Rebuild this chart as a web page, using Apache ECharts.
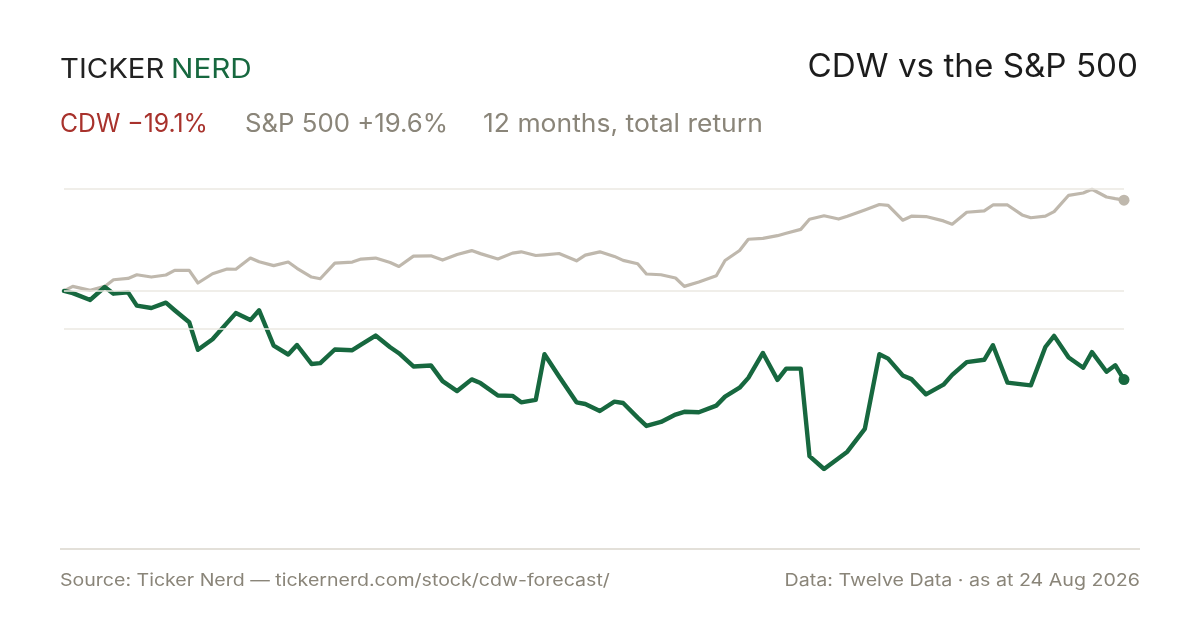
<!DOCTYPE html>
<html><head><meta charset="utf-8">
<script src="https://cdn.jsdelivr.net/npm/echarts@6/dist/echarts.min.js"></script>
<style>html,body{margin:0;padding:0;background:#fff}#c{width:1200px;height:630px}</style>
</head><body><div id="c"></div>
<script>
const dates = ['2025-08-25','2025-08-28','2025-09-03','2025-09-08','2025-09-11','2025-09-16','2025-09-19','2025-09-24','2025-09-29','2025-10-02','2025-10-07','2025-10-10','2025-10-15','2025-10-20','2025-10-23','2025-10-28','2025-10-31','2025-11-05','2025-11-10','2025-11-13','2025-11-18','2025-11-21','2025-11-26','2025-12-02','2025-12-05','2025-12-10','2025-12-15','2025-12-18','2025-12-23','2025-12-29','2026-01-02','2026-01-07','2026-01-12','2026-01-15','2026-01-21','2026-01-26','2026-01-29','2026-02-03','2026-02-06','2026-02-11','2026-02-17','2026-02-20','2026-02-25','2026-03-02','2026-03-05','2026-03-10','2026-03-13','2026-03-18','2026-03-23','2026-03-26','2026-03-31','2026-04-06','2026-04-09','2026-04-14','2026-04-17','2026-04-22','2026-04-27','2026-04-30','2026-05-05','2026-05-08','2026-05-13','2026-05-18','2026-05-21','2026-05-27','2026-06-01','2026-06-04','2026-06-09','2026-06-12','2026-06-17','2026-06-23','2026-06-26','2026-07-01','2026-07-07','2026-07-10','2026-07-15','2026-07-20','2026-07-23','2026-07-28','2026-07-31','2026-08-05','2026-08-10','2026-08-13','2026-08-18','2026-08-21','2026-08-24'];

const spx = [0, 0.99, 0.13, 0.99, 2.43, 2.71, 3.50, 3.01, 3.44, 4.43,
  4.43, 1.72, 3.72, 4.73, 4.69, 7.10, 6.30, 5.48, 6.24, 4.90,
  3.01, 2.64, 6.02, 6.24, 6.88, 7.10, 6.15, 5.29, 7.53, 7.59,
  6.67, 7.87, 8.71, 8.06, 6.90, 8.17, 8.45, 7.65, 7.80, 8.08,
  6.51, 7.74, 8.45, 7.46, 6.60, 5.87, 3.66, 3.50, 2.80, 0.99,
  1.94, 3.29, 6.58, 8.73, 11.16, 11.35, 11.93, 12.47, 13.29, 15.48,
  16.23, 15.52, 16.13, 17.48, 18.66, 18.47, 15.27, 16.13, 16.06, 15.12,
  14.41, 16.99, 17.27, 18.56, 18.56, 16.41, 15.80, 16.15, 17.11, 20.64,
  21.14, 21.95, 20.27, 19.91, 19.60];

const cdw = [0, -0.47, -1.94, 0.86, -0.58, -0.30, -3.16, -3.66, -2.52, -4.15,
  -6.75, -12.69, -10.41, -6.88, -4.77, -6.28, -4.17, -11.80, -13.70, -11.65,
  -15.74, -15.57, -12.62, -12.77, -11.59, -9.61, -12.13, -13.42, -16.28, -16.06,
  -19.44, -21.59, -19.07, -19.87, -22.55, -22.62, -24.02, -23.48, -13.63, -18.43,
  -24.02, -24.38, -25.89, -23.87, -24.17, -27.31, -29.11, -28.25, -26.66, -26.06,
  -26.17, -24.73, -22.79, -20.86, -18.75, -13.37, -19.18, -16.75, -16.75, -35.63,
  -38.40, -36.06, -34.66, -29.76, -13.63, -14.60, -18.21, -19.01, -22.30, -20.21,
  -18.10, -15.35, -14.84, -11.70, -19.78, -20.15, -20.36, -12.08, -9.68, -14.34,
  -16.56, -13.20, -17.42, -16.02, -19.10];

const gridValues = [22.0, 0, -8.2];
const yMin = -38.4, yMax = 22.0;

const GREEN = '#17683f', GREY = '#bfb8ad', MUTED = '#8a8579', RED = '#a8322c';
const FONT = 'Inter, "Noto Sans", sans-serif';

const pair = arr => arr.map((v, i) => [dates[i], v]);
const last = dates.length - 1;

function txt(text, x, y, size, color, sx, align) {
  return {
    type: 'text', x: x, y: y, scaleX: sx, silent: true,
    style: {text: text, font: '400 ' + size + 'px ' + FONT, fill: color,
            align: align || 'left', verticalAlign: 'middle'}
  };
}

const chart = echarts.init(document.getElementById('c'), null, {renderer: 'canvas'});
chart.setOption({
  animation: false,
  backgroundColor: '#ffffff',
  grid: {left: 64, right: 76, top: 189, bottom: 161},
  xAxis: {type: 'time', min: dates[0], max: dates[last], show: false},
  yAxis: {type: 'value', min: yMin, max: yMax, show: false, splitLine: {show: false}},
  series: [
    {
      type: 'line', name: 'S&P 500', data: pair(spx), showSymbol: false, symbol: 'none',
      lineStyle: {color: GREY, width: 3.2, join: 'round', cap: 'round'}, z: 2,
      markLine: {
        silent: true, symbol: 'none', label: {show: false},
        lineStyle: {color: '#ebe8e2', width: 1.5, type: 'solid'},
        data: gridValues.map(v => ({yAxis: v}))
      }
    },
    {
      type: 'line', name: 'CDW', data: pair(cdw), showSymbol: false, symbol: 'none',
      lineStyle: {color: GREEN, width: 4.4, join: 'round', cap: 'round'}, z: 3
    },
    {
      type: 'scatter', data: [[dates[last], spx[last]]], symbolSize: 11,
      itemStyle: {color: GREY, opacity: 1}, z: 4, silent: true
    },
    {
      type: 'scatter', data: [[dates[last], cdw[last]]], symbolSize: 11,
      itemStyle: {color: GREEN, opacity: 1}, z: 4, silent: true
    }
  ],
  graphic: [
    txt('TICKER', 60, 70, 27, '#222222', 1.085),
    txt('NERD', 171, 70, 27, GREEN, 1.1),
    txt('CDW vs the S&P 500', 1138, 67, 32, '#1c1c1c', 1.038, 'right'),
    txt('CDW \u221219.1%', 60, 124, 25, RED, 0.99),
    txt('S&P 500 +19.6%', 245, 124, 25, MUTED, 1.03),
    txt('12 months, total return', 483, 124, 25, MUTED, 1.06),
    {type: 'line', silent: true, shape: {x1: 60, y1: 549, x2: 1140, y2: 549}, style: {stroke: '#e3e0d9', lineWidth: 2}},
    txt('Source: Ticker Nerd \u2014 tickernerd.com/stock/cdw-forecast/', 60, 581, 17, MUTED, 1.15),
    txt('Data: Twelve Data \u00b7 as at 24 Aug 2026', 1140, 581, 17, MUTED, 1.155, 'right')
  ]
});
</script>
</body></html>
